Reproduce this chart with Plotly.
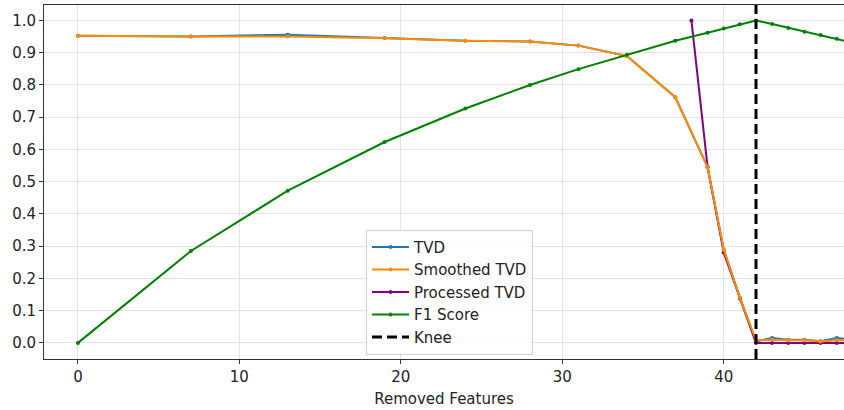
import plotly.graph_objects as go

# ---- data ----
x_feat = [0, 7, 13, 19, 24, 28, 31, 34, 37, 39, 40, 41, 42, 43, 44, 45, 46, 47, 48]
tvd = [0.953, 0.950, 0.956, 0.946, 0.937, 0.935, 0.922, 0.890, 0.762, 0.545,
       0.290, 0.140, 0.005, 0.015, 0.010, 0.010, 0.005, 0.015, 0.010]
smoothed_tvd = [0.953, 0.950, 0.950, 0.945, 0.937, 0.935, 0.922, 0.890, 0.762, 0.545,
                0.290, 0.140, 0.008, 0.010, 0.008, 0.008, 0.004, 0.008, 0.008]
x_processed = [38, 39, 40, 41, 42, 43, 44, 45, 46, 47, 48]
processed_tvd = [1.0, 0.545, 0.280, 0.138, 0.0, 0.0, 0.0, 0.0, 0.0, 0.0, 0.0]
f1_score = [0.0, 0.285, 0.472, 0.623, 0.727, 0.800, 0.849, 0.894, 0.937, 0.962,
            0.975, 0.988, 1.0, 0.989, 0.977, 0.965, 0.955, 0.943, 0.931]
knee_x = 42
x_range = [-2.1, 47.45]
y_range = [-0.05, 1.048]
x_ticks = [0, 10, 20, 30, 40]
y_ticks = [0.0, 0.1, 0.2, 0.3, 0.4, 0.5, 0.6, 0.7, 0.8, 0.9, 1.0]

FONT = "DejaVu Sans"
FS = 15
fig = go.Figure()

def line_trace(x, y, name, color, rank):
    return go.Scatter(x=x, y=y, name=name, mode="lines+markers",
                      line=dict(color=color, width=2),
                      marker=dict(color=color, size=4), legendrank=rank)

# drawing order: processed below smoothed, F1 on top; legend order via legendrank
fig.add_trace(line_trace(x_feat, tvd, "TVD", "#1f77b4", 1))
fig.add_trace(line_trace(x_processed, processed_tvd, "Processed TVD", "#800080", 3))
fig.add_trace(line_trace(x_feat, smoothed_tvd, "Smoothed TVD", "#ff8c00", 2))
fig.add_trace(line_trace(x_feat, f1_score, "F1 Score", "#008000", 4))
fig.add_trace(go.Scatter(x=[knee_x, knee_x], y=y_range, name="Knee", mode="lines",
                         line=dict(color="black", width=3, dash="10px,5px"),
                         legendrank=5))

axis_common = dict(showline=True, linecolor="#333", linewidth=1, mirror=True,
                   showgrid=True, gridcolor="#e3e3e3", gridwidth=1,
                   ticks="outside", ticklen=4, tickcolor="#333", zeroline=False,
                   tickfont=dict(family=FONT, size=FS, color="#222"))

fig.update_xaxes(range=x_range, tickvals=x_ticks, **axis_common,
                 title=dict(text="Removed Features", standoff=8,
                            font=dict(family=FONT, size=FS, color="#222")))
fig.update_yaxes(range=y_range, tickvals=y_ticks, tickformat=".1f", **axis_common)

fig.update_layout(
    width=844, height=410,
    margin=dict(l=44, r=0, t=5, b=51),
    plot_bgcolor="white", paper_bgcolor="white",
    font=dict(family=FONT, size=FS, color="#222"),
    legend=dict(x=0.4025, y=0.012, xanchor="left", yanchor="bottom",
                bgcolor="rgba(255,255,255,0.85)", bordercolor="#d0d0d0", borderwidth=1,
                font=dict(family=FONT, size=FS, color="#222"),
                itemwidth=37, tracegroupgap=0),
    showlegend=True,
)

fig.write_html("out.html")
